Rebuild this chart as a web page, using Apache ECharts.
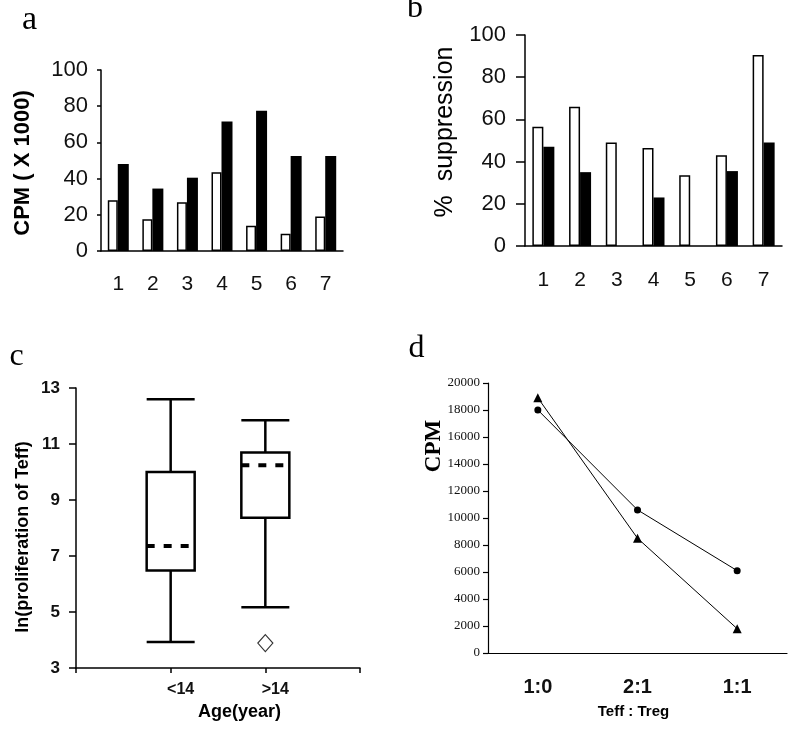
<!DOCTYPE html>
<html>
<head>
<meta charset="utf-8">
<script src="https://cdn.jsdelivr.net/npm/echarts@6/dist/echarts.min.js"></script>
<style>html,body{margin:0;padding:0;background:#fff}#chart{width:800px;height:731px}</style>
</head>
<body>
<div id="chart"></div>
<script>
// ---- Data ----
var catsA = ['1','2','3','4','5','6','7'];
var aWhite = [28, 17.5, 27, 43.5, 14, 9.5, 19];
var aBlack = [48, 34.5, 40.5, 71.5, 77.5, 52.5, 52.5];

var catsB = ['1','2','3','4','5','6','7'];
var bWhite = [56.5, 66, 49, 46.5, 33.5, 43, 90.5];
var bBlack = [47, 35, 0, 23, 0, 35.5, 49];

var catsC = ['<14', '>14'];
// [min, Q1, median, Q3, max]
var boxC = [[3.93, 6.48, 7.36, 10.0, 12.6], [5.17, 8.37, 10.24, 10.7, 11.85]];
var outlierC = [['>14', 3.89]];
var ticksC = [3, 5, 7, 9, 11, 13];

var catsD = ['1:0', '2:1', '1:1'];
var dCircle = [18000, 10600, 6100];
var dTriangle = [18900, 8500, 1800];

// ---- Chart ----
var chart = echarts.init(document.getElementById('chart'), null, {renderer: 'canvas'});
var axisLine = {lineStyle: {color: '#000', width: 1.5}};
var sans = 'Liberation Sans, Arial, sans-serif';
var serif = 'Liberation Serif, Times New Roman, serif';

var catAxisC = [''].concat(catsC).concat(['']);
var boxData = boxC.map(function (b, i) { return [i + 1].concat(b); });

function renderBox(params, api) {
  var x = api.value(0);
  var pMin = api.coord([x, api.value(1)]);
  var pQ1 = api.coord([x, api.value(2)]);
  var pMed = api.coord([x, api.value(3)]);
  var pQ3 = api.coord([x, api.value(4)]);
  var pMax = api.coord([x, api.value(5)]);
  var cx = pMin[0], hw = 24;
  var st = {stroke: '#000', lineWidth: 2.5, fill: null};
  return {
    type: 'group',
    children: [
      {type: 'line', shape: {x1: cx, y1: pMax[1], x2: cx, y2: pQ3[1]}, style: st},
      {type: 'line', shape: {x1: cx, y1: pQ1[1], x2: cx, y2: pMin[1]}, style: st},
      {type: 'line', shape: {x1: cx - hw, y1: pMax[1], x2: cx + hw, y2: pMax[1]}, style: st},
      {type: 'line', shape: {x1: cx - hw, y1: pMin[1], x2: cx + hw, y2: pMin[1]}, style: st},
      {type: 'rect', shape: {x: cx - hw, y: pQ3[1], width: 2 * hw, height: pQ1[1] - pQ3[1]}, style: {stroke: '#000', lineWidth: 2.5, fill: '#fff'}},
      {type: 'line', shape: {x1: cx - hw, y1: pMed[1], x2: cx + hw + 3, y2: pMed[1]}, style: {stroke: '#000', lineWidth: 4, lineDash: [8, 9]}}
    ]
  };
}

var option = {
  backgroundColor: '#fff',
  animation: false,
  grid: [
    {left: 101, top: 70, width: 242, height: 181},
    {left: 525, top: 35, width: 257, height: 211},
    {left: 76, top: 388, width: 284, height: 280},
    {left: 488, top: 383, width: 299, height: 270}
  ],
  xAxis: [
    {gridIndex: 0, type: 'category', data: catsA, axisLine: axisLine,
     axisTick: {length: 5, lineStyle: {color: '#000', width: 1.5}},
     axisLabel: {color: '#111', fontSize: 21, fontFamily: sans, margin: 23}},
    {gridIndex: 1, type: 'category', data: catsB, axisLine: axisLine,
     axisTick: {length: 6, lineStyle: {color: '#000', width: 1.5}},
     axisLabel: {color: '#111', fontSize: 21, fontFamily: sans, margin: 24}},
    {gridIndex: 2, type: 'category', data: catAxisC, boundaryGap: false, axisLine: axisLine,
     axisTick: {length: 5, interval: 0, lineStyle: {color: '#000', width: 1.5}},
     axisLabel: {interval: 0, color: '#111', fontSize: 16, fontWeight: 'bold', fontFamily: sans, margin: 14, padding: [0, 0, 0, 20]}},
    {gridIndex: 3, type: 'category', data: catsD, axisLine: {lineStyle: {color: '#000', width: 1.2}},
     axisTick: {length: 5, lineStyle: {color: '#000', width: 1.2}},
     axisLabel: {color: '#111', fontSize: 20, fontWeight: 'bold', fontFamily: sans, margin: 24}}
  ],
  yAxis: [
    {gridIndex: 0, type: 'value', min: 0, max: 100, interval: 20, splitLine: {show: false},
     axisLine: {show: true, lineStyle: {color: '#000', width: 1.5}},
     axisTick: {show: true, length: 4, lineStyle: {color: '#000', width: 1.5}},
     axisLabel: {color: '#111', fontSize: 22, fontFamily: sans, margin: 13}},
    {gridIndex: 1, type: 'value', min: 0, max: 100, interval: 20, splitLine: {show: false},
     axisLine: {show: true, lineStyle: {color: '#000', width: 1.5}},
     axisTick: {show: true, length: 9, lineStyle: {color: '#000', width: 1.5}},
     axisLabel: {color: '#111', fontSize: 22, fontFamily: sans, margin: 19}},
    {gridIndex: 2, type: 'value', min: ticksC[0], max: ticksC[ticksC.length - 1], interval: ticksC[1] - ticksC[0], splitLine: {show: false},
     axisLine: {show: true, lineStyle: {color: '#000', width: 1.5}},
     axisTick: {show: true, length: 7, lineStyle: {color: '#000', width: 1.5}},
     axisLabel: {color: '#111', fontSize: 17, fontWeight: 'bold', fontFamily: sans, margin: 16}},
    {gridIndex: 3, type: 'value', min: 0, max: 20000, interval: 2000, splitLine: {show: false},
     axisLine: {show: true, lineStyle: {color: '#000', width: 1.2}},
     axisTick: {show: true, length: 5, lineStyle: {color: '#000', width: 1.2}},
     axisLabel: {color: '#111', fontSize: 13, fontFamily: serif, margin: 8, formatter: function (v) { return String(v); }}}
  ],
  series: [
    {name: 'a-open', type: 'bar', xAxisIndex: 0, yAxisIndex: 0, data: aWhite, barWidth: 10, barGap: '0%',
     itemStyle: {color: '#fff', borderColor: '#000', borderWidth: 1.5}},
    {name: 'a-filled', type: 'bar', xAxisIndex: 0, yAxisIndex: 0, data: aBlack, barWidth: 11, barGap: '0%',
     itemStyle: {color: '#000', borderWidth: 0}},
    {name: 'b-open', type: 'bar', xAxisIndex: 1, yAxisIndex: 1, data: bWhite, barWidth: 11, barGap: '0%',
     itemStyle: {color: '#fff', borderColor: '#000', borderWidth: 1.5}},
    {name: 'b-filled', type: 'bar', xAxisIndex: 1, yAxisIndex: 1, data: bBlack, barWidth: 11, barGap: '0%',
     itemStyle: {color: '#000', borderWidth: 0}},
    {name: 'box', type: 'custom', xAxisIndex: 2, yAxisIndex: 2, data: boxData, renderItem: renderBox,
     encode: {x: 0, y: [1, 2, 3, 4, 5]}},
    {name: 'outlier', type: 'scatter', xAxisIndex: 2, yAxisIndex: 2, data: outlierC, symbol: 'diamond', symbolSize: [15, 17],
     itemStyle: {color: '#fff', borderColor: '#000', borderWidth: 1.2}},
    {name: 'circle', type: 'line', xAxisIndex: 3, yAxisIndex: 3, data: dCircle, symbol: 'circle', symbolSize: 7,
     lineStyle: {color: '#000', width: 1}, itemStyle: {color: '#000'}},
    {name: 'triangle', type: 'line', xAxisIndex: 3, yAxisIndex: 3, data: dTriangle, symbol: 'triangle', symbolSize: 9,
     lineStyle: {color: '#000', width: 1}, itemStyle: {color: '#000'}}
  ],
  graphic: [
    {type: 'text', x: 29.5, y: 20, style: {text: 'a', font: '34px ' + serif, fill: '#000', textAlign: 'center', textVerticalAlign: 'middle'}},
    {type: 'text', x: 415, y: 9, style: {text: 'b', font: '32px ' + serif, fill: '#000', textAlign: 'center', textVerticalAlign: 'middle'}},
    {type: 'text', x: 16.5, y: 357, style: {text: 'c', font: '32px ' + serif, fill: '#000', textAlign: 'center', textVerticalAlign: 'middle'}},
    {type: 'text', x: 416.5, y: 349, style: {text: 'd', font: '32px ' + serif, fill: '#000', textAlign: 'center', textVerticalAlign: 'middle'}},
    {type: 'text', x: 23, y: 163, rotation: Math.PI / 2, style: {text: 'CPM ( X 1000)', font: 'bold 22px ' + sans, fill: '#000', textAlign: 'center', textVerticalAlign: 'middle'}},
    {type: 'text', x: 445, y: 132, rotation: Math.PI / 2, style: {text: '%  suppression', font: '25px ' + sans, fill: '#000', textAlign: 'center', textVerticalAlign: 'middle'}},
    {type: 'text', x: 23, y: 537, rotation: Math.PI / 2, style: {text: 'ln(proliferation of Teff)', font: 'bold 18px ' + sans, fill: '#000', textAlign: 'center', textVerticalAlign: 'middle'}},
    {type: 'text', x: 434.5, y: 446, rotation: Math.PI / 2, style: {text: 'CPM', font: 'bold 23px ' + serif, fill: '#000', textAlign: 'center', textVerticalAlign: 'middle'}},
    {type: 'text', x: 239.5, y: 712, style: {text: 'Age(year)', font: 'bold 18px ' + sans, fill: '#000', textAlign: 'center', textVerticalAlign: 'middle'}},
    {type: 'text', x: 633.5, y: 712, style: {text: 'Teff : Treg', font: 'bold 15px ' + sans, fill: '#000', textAlign: 'center', textVerticalAlign: 'middle'}}
  ]
};
chart.setOption(option);
</script>
</body>
</html>
